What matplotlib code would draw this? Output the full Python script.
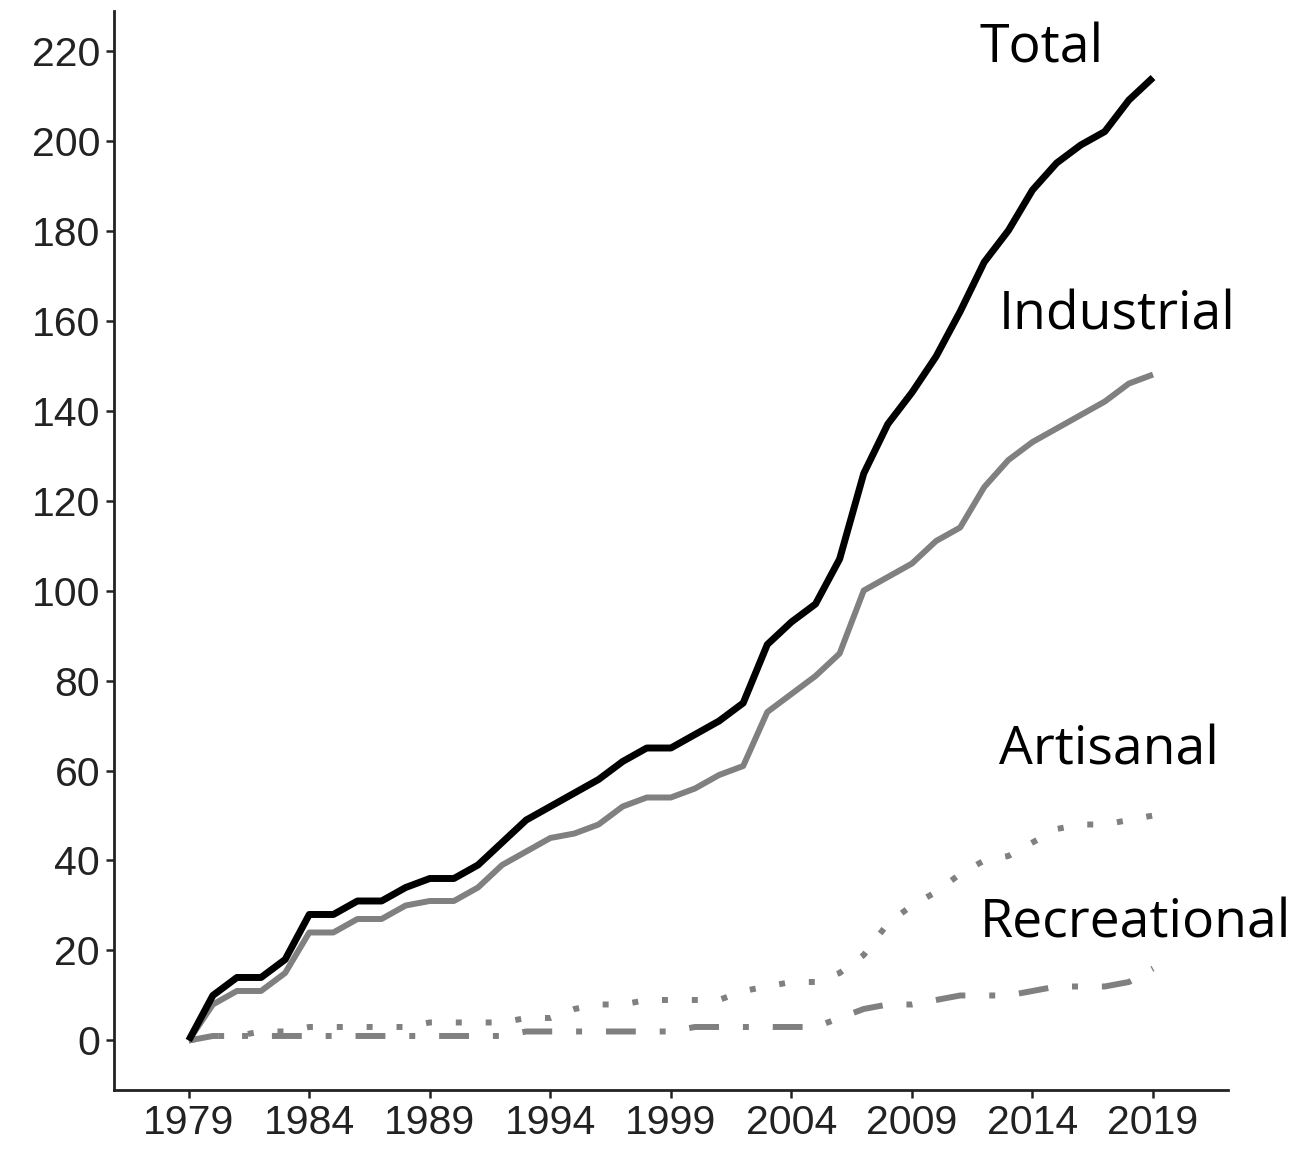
import matplotlib
matplotlib.use('Agg')
import matplotlib.pyplot as plt


years = list(range(1979, 2020))

total = [0, 10, 14, 14, 18, 28, 28, 31, 31, 34,
         36, 36, 39, 44, 49, 52, 55, 58, 62, 65,
         65, 68, 71, 75, 88, 93, 97, 107, 126, 137,
         144, 152, 162, 173, 180, 189, 195, 199, 202, 209,
         214]

industrial = [0, 8, 11, 11, 15, 24, 24, 27, 27, 30,
              31, 31, 34, 39, 42, 45, 46, 48, 52, 54,
              54, 56, 59, 61, 73, 77, 81, 86, 100, 103,
              106, 111, 114, 123, 129, 133, 136, 139, 142, 146,
              148]

artisanal = [0, 1, 1, 2, 2, 3, 3, 3, 3, 3,
             4, 4, 4, 4, 5, 5, 7, 8, 8, 9,
             9, 9, 9, 11, 12, 13, 13, 15, 19, 26,
             30, 33, 37, 40, 41, 44, 47, 48, 48, 49,
             50]

recreational = [0, 1, 1, 1, 1, 1, 1, 1, 1, 1,
                1, 1, 1, 1, 2, 2, 2, 2, 2, 2,
                2, 3, 3, 3, 3, 3, 3, 5, 7, 8,
                8, 9, 10, 10, 10, 11, 12, 12, 12, 13,
                16]

x_ticks = [1979, 1984, 1989, 1994, 1999, 2004, 2009, 2014, 2019]
y_ticks = list(range(0, 221, 20))

labels = ['Total', 'Industrial', 'Artisanal', 'Recreational']
label_pos = [(2011.8, 220.5), (2012.6, 161), (2012.6, 64.5), (2011.8, 26)]


def main():
    fig = plt.figure(figsize=(12.91, 11.55), dpi=100)
    ax = fig.add_axes([0.0883, 0.0563, 0.8627, 0.9342])

    draw_lines(ax)
    style_axes(ax)
    add_labels(ax)

    fig.savefig('out.png', dpi=100, facecolor='white')


def draw_lines(ax):
    gray = '#808080'
    ax.plot(years, total, color='black', lw=5.0, solid_capstyle='butt',
            zorder=4)
    ax.plot(years, industrial, color=gray, lw=4.3, solid_capstyle='butt',
            zorder=3)
    ax.plot(years, artisanal, color=gray, lw=4.3, dashes=(1, 4),
            dash_capstyle='butt', zorder=2)
    ax.plot(years, recreational, color=gray, lw=4.3,
            dashes=(5, 4, 1, 4), dash_capstyle='butt', zorder=2)


def style_axes(ax):
    ax.set_xlim(1975.9, 2022.1)
    ax.set_ylim(-11, 228.8)
    ax.set_xticks(x_ticks)
    ax.set_yticks(y_ticks)

    for side in ['top', 'right']:
        ax.spines[side].set_visible(False)
    for side in ['left', 'bottom']:
        ax.spines[side].set_linewidth(2)
        ax.spines[side].set_color('#222222')

    ax.tick_params(axis='both', direction='out', length=6, width=1.8,
                   color='#222222', labelsize=29.5, labelcolor='#222222',
                   pad=4)
    for lab in ax.get_xticklabels() + ax.get_yticklabels():
        lab.set_fontfamily('Liberation Sans')


def add_labels(ax):
    for text, (x, y) in zip(labels, label_pos):
        ax.text(x, y, text, ha='left', va='center', fontsize=38.5,
                family='Open Sans', color='black', clip_on=False)


if __name__ == '__main__':
    main()
